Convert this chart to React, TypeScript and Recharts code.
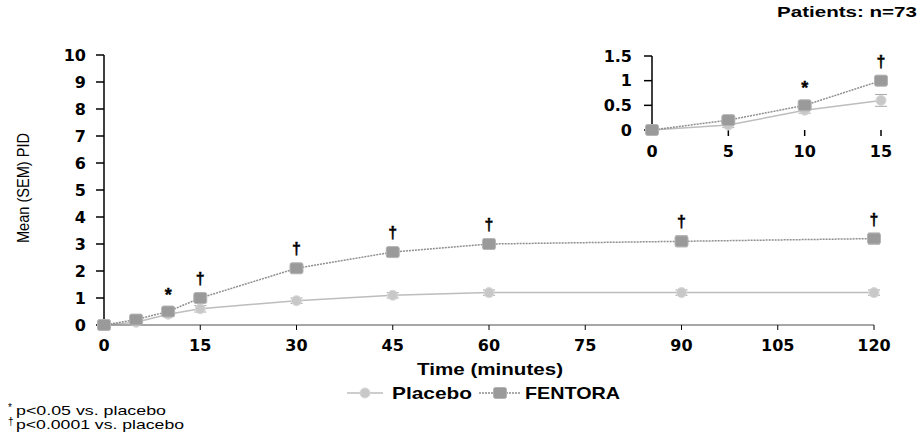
import React from 'react';
import { LineChart, Line, XAxis, YAxis, ErrorBar, LabelList } from 'recharts';

const times = [0, 5, 10, 15, 30, 45, 60, 90, 120];
const placebo = [0, 0.1, 0.4, 0.6, 0.9, 1.1, 1.2, 1.2, 1.2];
const placeboSem = [0, 0.05, 0.06, 0.12, 0.1, 0.1, 0.1, 0.1, 0.1];
const fentora = [0, 0.2, 0.5, 1.0, 2.1, 2.7, 3.0, 3.1, 3.2];
const fentoraSem = [0, 0.06, 0.08, 0.1, 0.15, 0.15, 0.18, 0.2, 0.2];
const significance = ['', '', '*', '†', '†', '†', '†', '†', '†'];

const mainXTicks = [0, 15, 30, 45, 60, 75, 90, 105, 120];
const mainYTicks = [0, 1, 2, 3, 4, 5, 6, 7, 8, 9, 10];
const insetXTicks = [0, 5, 10, 15];
const insetYTicks = [0, 0.5, 1, 1.5];
const insetMax = 15;

const data = times.map((t, i) => ({
  t,
  placebo: placebo[i],
  pSem: placeboSem[i],
  fentora: fentora[i],
  fSem: fentoraSem[i],
  sig: significance[i],
}));
const insetData = data.filter((d) => d.t <= insetMax);

const PLACEBO = '#bdbdbd';
const FENTORA = '#8e8e8e';

const tickStyle = { fontFamily: 'DejaVu Sans', fontWeight: 'bold', fontSize: 16, fill: '#000' };

// stippled-looking markers
const FentoraDot = (p: any) => (
  <rect key={`f-${p.index}`} x={p.cx - 6.5} y={p.cy - 5.5} width={13} height={11} rx={2}
    fill="#9a9a9a" stroke="#b4b4b4" strokeWidth={1} />
);
const PlaceboDot = (p: any) => (
  <circle key={`p-${p.index}`} cx={p.cx} cy={p.cy} r={5} fill="#c8c8c8" stroke="#d8d8d8" strokeWidth={1} />
);

const SigLabel = (p: any) => {
  if (!p.value) return null;
  const star = p.value === '*';
  return (
    <text x={p.x} y={p.y - (star ? 11 : 14)} textAnchor="middle"
      fontFamily="Liberation Sans" fontSize={star ? 18 : 16} fontWeight="bold"
      fill="#000" stroke="#000" strokeWidth={0.4}>
      {p.value}
    </text>
  );
};

const Series = () => [
  <Line key="p" type="linear" dataKey="placebo" stroke={PLACEBO} strokeWidth={1.5}
    dot={PlaceboDot} isAnimationActive={false}>
    <ErrorBar dataKey="pSem" width={6} stroke="#aaa" strokeWidth={1} direction="y" />
  </Line>,
  <Line key="f" type="linear" dataKey="fentora" stroke={FENTORA} strokeWidth={1.5} strokeDasharray="2 1"
    dot={FentoraDot} isAnimationActive={false}>
    <ErrorBar dataKey="fSem" width={6} stroke="#999" strokeWidth={1} direction="y" />
    <LabelList dataKey="sig" content={SigLabel} />
  </Line>,
];

export default function App() {
  return (
    <div style={{ position: 'absolute', left: 0, top: 0, width: 922, height: 444, background: '#fff', overflow: 'hidden' }}>
      <div style={{ position: 'absolute', left: 0, top: 0 }}>
        <LineChart width={922} height={444} data={data} margin={{ top: 55, right: 48, bottom: 89, left: 44 }}>
          <XAxis dataKey="t" type="number" domain={[0, 120]} ticks={mainXTicks} interval={0}
            tickSize={5} tickMargin={10} height={30} tick={tickStyle}
            axisLine={{ stroke: '#888', strokeWidth: 1.5 }} tickLine={{ stroke: '#000' }} />
          <YAxis type="number" domain={[0, 10]} ticks={mainYTicks} interval={0} width={60}
            tickSize={8} tickMargin={10} tick={tickStyle}
            axisLine={{ stroke: '#000', strokeWidth: 1.5 }} tickLine={{ stroke: '#000', strokeWidth: 1.5 }} />
          {Series()}
        </LineChart>
      </div>

      <div style={{ position: 'absolute', left: 560, top: 30 }}>
        <LineChart width={362} height={140} data={insetData} margin={{ top: 26, right: 41, bottom: 10, left: 32 }}>
          <XAxis dataKey="t" type="number" domain={[0, insetMax]} ticks={insetXTicks} interval={0}
            tickSize={6} tickMargin={10} height={30} tick={tickStyle}
            axisLine={false} tickLine={{ stroke: '#000', strokeWidth: 1.5 }} />
          <YAxis type="number" domain={[0, 1.5]} ticks={insetYTicks} interval={0} width={60}
            tickSize={8} tickMargin={12} tick={tickStyle}
            axisLine={{ stroke: '#000', strokeWidth: 1.5 }} tickLine={{ stroke: '#000', strokeWidth: 1.5 }} />
          {Series()}
        </LineChart>
      </div>

      <svg width={922} height={444} style={{ position: 'absolute', left: 0, top: 0, pointerEvents: 'none' }}>
        <text x={917} y={17} textAnchor="end" fontFamily="Liberation Sans" fontWeight="bold" fontSize={14}
          textLength={140} lengthAdjust="spacingAndGlyphs">
          Patients: n=73
        </text>
        <text transform="translate(29,188) rotate(-90)" textAnchor="middle" fontFamily="Liberation Sans Narrow, Liberation Sans"
          fontSize={17} textLength={110} lengthAdjust="spacingAndGlyphs">
          Mean (SEM) PID
        </text>
        <text x={490} y={375} textAnchor="middle" fontFamily="Liberation Sans" fontWeight="bold" fontSize={17}
          textLength={146} lengthAdjust="spacingAndGlyphs">
          Time (minutes)
        </text>

        {/* legend */}
        <line x1={347} y1={393} x2={383} y2={393} stroke={PLACEBO} strokeWidth={1.5} />
        <PlaceboDot cx={365} cy={393} index="lg" />
        <text x={392} y={399} fontFamily="Liberation Sans" fontWeight="bold" fontSize={17} textLength={80} lengthAdjust="spacingAndGlyphs">Placebo</text>
        <line x1={479} y1={393} x2={520} y2={393} stroke={FENTORA} strokeWidth={1.5} strokeDasharray="2 1" />
        <FentoraDot cx={500} cy={393} index="lg" />
        <text x={525} y={399} fontFamily="Liberation Sans" fontWeight="bold" fontSize={17} textLength={95} lengthAdjust="spacingAndGlyphs">FENTORA</text>

        {/* footnotes */}
        <text x={8} y={411} fontFamily="Liberation Sans" fontSize={10}>*</text>
        <text x={16} y={415} fontFamily="Liberation Sans" fontSize={13.5} textLength={150} lengthAdjust="spacingAndGlyphs">
          p&lt;0.05 vs. placebo
        </text>
        <text x={8} y={425} fontFamily="Liberation Sans" fontSize={10}>†</text>
        <text x={16} y={429} fontFamily="Liberation Sans" fontSize={13.5} textLength={168} lengthAdjust="spacingAndGlyphs">
          p&lt;0.0001 vs. placebo
        </text>
      </svg>
    </div>
  );
}
